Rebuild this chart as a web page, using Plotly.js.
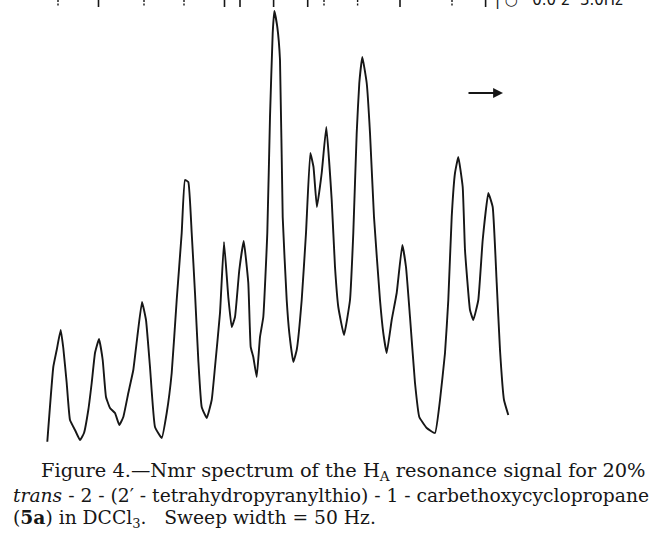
<!DOCTYPE html>
<html>
<head>
<meta charset="utf-8">
<script src="https://cdn.plot.ly/plotly-3.0.1.min.js"></script>
<style>html,body{margin:0;padding:0;background:#fff;}#chart{width:652px;height:535px;}</style>
</head>
<body>
<div id="chart"></div>
<script>
// Trace position (chart units, left to right) and signal height read from the recording
const tracePosition = [47.3,53.3,56.7,60.7,63.3,66.7,70,75,80,84,88.3,91.7,95,99,102.7,106,110,115,119.3,123.3,128.3,133.3,137.3,142,146,150,155,161.7,166.7,171.7,176.7,181.7,185,188.3,191.7,195,198.3,201.7,206.7,211.7,215,220,224,228.3,231.7,235,239.3,243.7,248.3,250.7,253.3,256.7,260,263.3,267.3,270,272.7,274.3,277.3,280,282.7,286.7,289.3,293.3,296.7,301.7,306,310.3,313.5,316.9,321.7,326.3,331.7,335,338.3,344,350,353.3,356.7,359.3,362.3,366.7,370,374,380,383.3,386.7,391.7,396.7,402.3,406,410,415,419.3,426.7,435,440,445,448.3,451.7,455,458.3,462.7,465,470,473.3,478.3,482.7,488.3,492.7,496.7,500,504,508.3];
const signalHeight = [-1.7,73,90,110,92,57,20,10,0,7,30,57,87,101,80,43,32,27,15,23,47,70,103,138,120,73,13,2,27,67,140,207,260,258,207,147,80,33,22,40,73,127,198,143,113,123,170,199,157,93,83,63,103,123,207,323,407,429,413,380,223,140,107,78,90,140,207,287,273,233,267,313,240,173,133,105,140,207,307,357,383,357,307,223,140,107,87,120,147,195,173,123,57,23,12,7,40,87,140,223,267,283,253,190,130,120,140,200,247,233,157,90,40,25];
// Top time-marker ticks (chart units) and whether the mark is broken
const markerPosition = [58,98.5,144,184,224.5,240,273.6,307.7,324,357.6,400,452,485.6];
const markerBroken = [true,false,true,true,false,false,false,false,true,true,false,true,false];

const ink = '#161616';
const traces = [{
  x: tracePosition, y: signalHeight, type: 'scatter', mode: 'lines',
  line: {color: ink, width: 1.9, shape: 'spline', smoothing: 0.35},
  hoverinfo: 'skip', showlegend: false
}];
// marker ticks
const solidX = [], solidY = [], brokenX = [], brokenY = [];
markerPosition.forEach((p, i) => {
  if (markerBroken[i]) { brokenX.push(p, p, null); brokenY.push(440, 433, null); }
  else { solidX.push(p, p, null); solidY.push(440, 433, null); }
});
traces.push({x: solidX, y: solidY, type: 'scatter', mode: 'lines', line: {color: ink, width: 1.6}, hoverinfo: 'skip', showlegend: false});
traces.push({x: brokenX, y: brokenY, type: 'scatter', mode: 'lines', line: {color: ink, width: 1.4, dash: '2px,1.5px'}, hoverinfo: 'skip', showlegend: false});

const serif = 'DejaVu Serif, Liberation Serif, serif';
const capFont = {family: serif, size: 18.7, color: ink};
const layout = {
  width: 652, height: 535,
  margin: {l: 0, r: 0, t: 0, b: 0},
  paper_bgcolor: '#fff', plot_bgcolor: '#fff',
  xaxis: {range: [0, 652], visible: false, fixedrange: true},
  yaxis: {range: [-95, 440], visible: false, fixedrange: true},
  showlegend: false,
  annotations: [
    {xref: 'x', yref: 'y', x: 503, y: 347, ax: 467, ay: 347, axref: 'x', ayref: 'y',
     showarrow: true, arrowhead: 2, arrowsize: 1.1, arrowwidth: 1.8, arrowcolor: ink, text: ''},
    {xref: 'paper', yref: 'paper', x: 493/652, y: 1.0, xanchor: 'left', yanchor: 'middle', showarrow: false,
     text: '| ○ · 0.0 2  3.0Hz', font: {family: 'DejaVu Sans, sans-serif', size: 15, color: ink}},
    {xref: 'paper', yref: 'paper', x: 39/652, y: (535-471)/535, xanchor: 'left', yanchor: 'middle', showarrow: false,
     text: 'Figure 4.—Nmr spectrum of the H<sub>A</sub> resonance signal for 20%', font: {family: serif, size: 19.4, color: ink}},
    {xref: 'paper', yref: 'paper', x: 11/652, y: (535-495)/535, xanchor: 'left', yanchor: 'middle', showarrow: false,
     text: '<i>trans</i> - 2 - (2′ - tetrahydropyranylthio) - 1 - carbethoxycyclopropane', font: capFont},
    {xref: 'paper', yref: 'paper', x: 11/652, y: (535-518)/535, xanchor: 'left', yanchor: 'middle', showarrow: false,
     text: '(<b>5a</b>) in DCCl<sub>3</sub>.   Sweep width = 50 Hz.', font: capFont}
  ]
};
Plotly.newPlot('chart', traces, layout, {staticPlot: true, displayModeBar: false});
</script>
</body>
</html>
